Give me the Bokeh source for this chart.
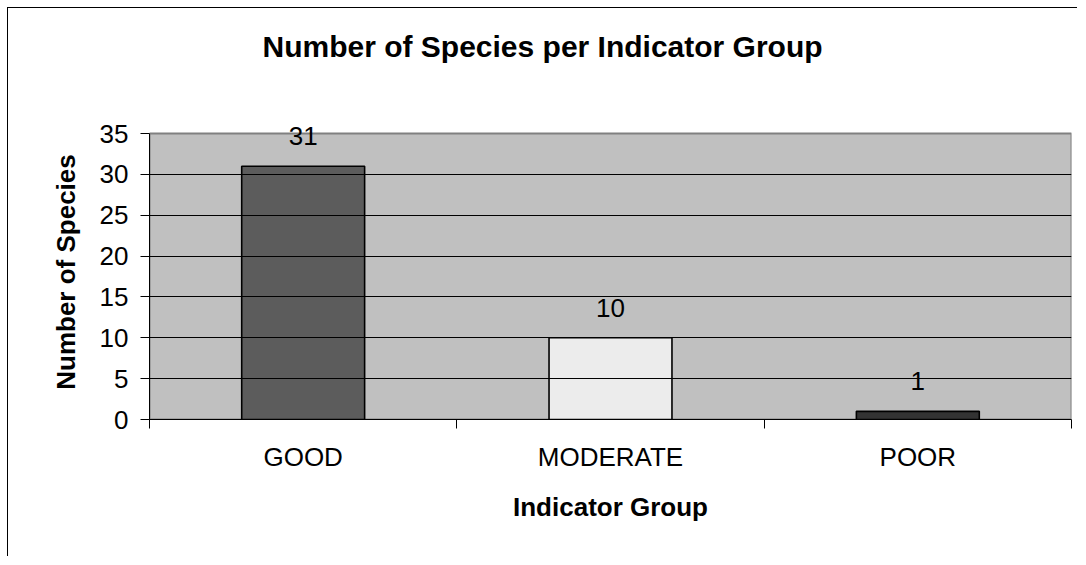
from bokeh.plotting import figure
from bokeh.models import ColumnDataSource, FixedTicker, Range1d, Title
from bokeh.core.properties import value
from bokeh.embed import file_html
from bokeh.resources import INLINE

# ---- data ----
categories = ["GOOD", "MODERATE", "POOR"]
species_counts = [31, 10, 1]
bar_colors = ["#5c5c5c", "#ececec", "#333333"]
y_ticks = [0, 5, 10, 15, 20, 25, 30, 35]
title_text = "Number of Species per Indicator Group"

FONT = "Liberation Sans"

n = len(categories)
xs = [i + 0.5 for i in range(n)]
boundaries = [i for i in range(n + 1)]
src = ColumnDataSource(dict(
    x=xs, top=species_counts, color=bar_colors,
    label=[str(v) for v in species_counts],
))

# layout: the plotting frame is a little taller than the grey area so that the
# value label above the tallest bar is not clipped
FIG_W, FIG_H = 1070, 549
B_LEFT, B_RIGHT, B_TOP, B_BOTTOM = 141, 7, 116, 138
frame_h = FIG_H - B_TOP - B_BOTTOM
grey_h = 286
y_end = y_ticks[-1] * frame_h / grey_h

p = figure(
    width=FIG_W, height=FIG_H, output_backend="svg", toolbar_location=None,
    x_range=Range1d(0, n), y_range=Range1d(0, y_end),
    min_border_left=B_LEFT, min_border_right=B_RIGHT,
    min_border_top=B_TOP, min_border_bottom=B_BOTTOM,
    background_fill_color="white", border_fill_color="white",
)
p.margin = (7, 0, 0, 7)
p.styles = {"border-left": "1px solid black", "border-top": "1px solid black"}
p.outline_line_color = None

# real title + a blank spacer title between it and the plot area
p.title = Title(
    text=title_text, align="left", offset=113, standoff=0,
    text_font=FONT, text_font_size="30px", text_font_style="bold",
    text_color="black",
)
p.add_layout(Title(text=" ", text_font=FONT, text_font_size="30px",
                   standoff=27), "above")

# grey plot area
p.quad(left=[0], right=[n], bottom=[0], top=[y_ticks[-1]],
       fill_color="#c0c0c0", line_color="#808080", line_width=2,
       level="underlay")

p.vbar(x="x", top="top", bottom=0, width=0.4, fill_color="color",
       line_color="black", line_width=1.6, source=src)
p.text(x="x", y="top", text="label", text_align="center",
       text_baseline="alphabetic", y_offset=-30,
       text_font=value(FONT), text_font_size="26px", text_color="black",
       source=src)

# x axis
p.xaxis.ticker = FixedTicker(ticks=xs, minor_ticks=boundaries)
p.xaxis.major_label_overrides = {x: c for x, c in zip(xs, categories)}
p.xaxis.major_tick_out = 0
p.xaxis.major_tick_in = 0
p.xaxis.minor_tick_out = 9
p.xaxis.minor_tick_in = 0
p.xaxis.minor_tick_line_color = "black"
p.xaxis.major_label_standoff = 13
p.xaxis.axis_label = "Indicator Group"
p.xaxis.axis_label_standoff = 17

# y axis
p.yaxis.ticker = FixedTicker(ticks=y_ticks, minor_ticks=[])
p.yaxis.bounds = (y_ticks[0], y_ticks[-1])
p.yaxis.major_tick_out = 9
p.yaxis.major_tick_in = 0
p.yaxis.major_label_standoff = 12
p.yaxis.axis_label = "Number of Species"
p.yaxis.axis_label_standoff = 16

for ax in (p.xaxis[0], p.yaxis[0]):
    ax.axis_line_color = "black"
    ax.axis_line_width = 1
    ax.major_tick_line_color = "black"
    ax.major_label_text_font = FONT
    ax.major_label_text_font_size = "26px"
    ax.major_label_text_color = "black"
    ax.axis_label_text_font = FONT
    ax.axis_label_text_font_size = "26px"
    ax.axis_label_text_font_style = "bold"
    ax.axis_label_text_color = "black"

p.xgrid.visible = False
p.ygrid.ticker = FixedTicker(ticks=y_ticks[1:-1], minor_ticks=[])
p.ygrid.grid_line_color = "black"
p.ygrid.grid_line_width = 1
p.ygrid.level = "glyph"

open("out.html", "w").write(file_html(p, INLINE))
